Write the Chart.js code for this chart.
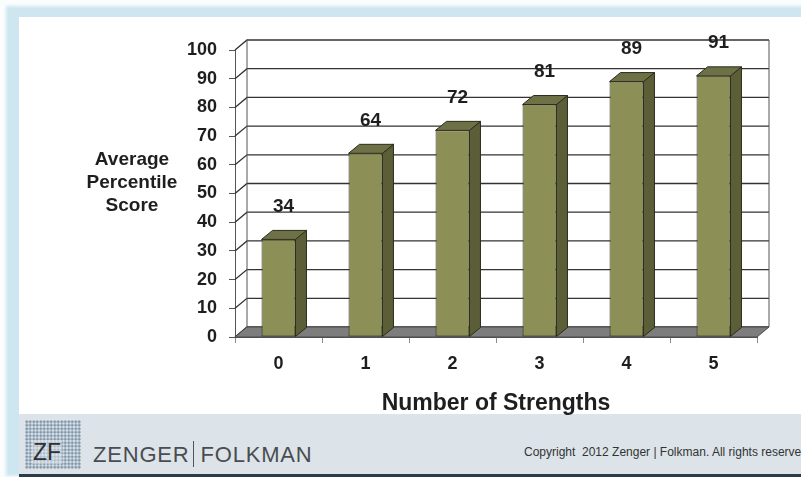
<!DOCTYPE html>
<html>
<head>
<meta charset="utf-8">
<script src="https://cdn.jsdelivr.net/npm/chart.js@4.4.1/dist/chart.umd.min.js"></script>
<style>
  html, body { margin: 0; padding: 0; }
  body { width: 801px; height: 477px; position: relative; overflow: hidden; background: #fafcfd; font-family: "Liberation Sans", Arial, sans-serif; }
  .frame { position: absolute; left: 6px; top: 6px; width: 820px; height: 470px; background: #cde6ef; filter: blur(1.5px); }
  .sheet { position: absolute; left: 19px; top: 17px; width: 800px; height: 397px; background: #fff; }
  .footer { position: absolute; left: 19px; top: 414px; width: 800px; height: 60px; background: #dce4e9; }
  .footer-line { position: absolute; left: 19px; top: 474px; width: 800px; height: 3px; background: #2c3b45; }
  .logo { position: absolute; left: 25px; top: 420px; width: 56px; height: 49px;
          background-image: radial-gradient(circle, #8196aa 1.2px, transparent 1.6px);
          background-size: 3.5px 3.5px; }
  .logo span { position: absolute; left: 7px; top: 20px; font-size: 23px; color: #2f3033; background: rgba(220,228,233,0.5); line-height: 24px; padding: 0 1px; }
  .brand { position: absolute; left: 93px; top: 441px; font-size: 22px; color: #4a4c50; letter-spacing: 0.8px; white-space: nowrap; }
  .brand i { display: inline-block; width: 1px; height: 26px; background: #555; vertical-align: -5px; margin: 0 6px 0 4px; }
  .copy { position: absolute; left: 524px; top: 445px; font-size: 12px; color: #333; white-space: nowrap; }
  #wrap { position: absolute; left: 0; top: 0; width: 801px; height: 477px; }
</style>
</head>
<body>
<div class="frame"></div>
<div class="sheet"></div>
<div class="footer"></div>
<div class="footer-line"></div>
<div class="logo"><span>ZF</span></div>
<div class="brand">ZENGER<i></i>FOLKMAN</div>
<div class="copy">Copyright&nbsp; 2012 Zenger | Folkman. All rights reserved</div>
<div id="wrap"><canvas id="chart"></canvas></div>
<script>
const strengths = ['0', '1', '2', '3', '4', '5'];
const percentileScores = [34, 64, 72, 81, 89, 91];
const yTitleLines = ['Average', 'Percentile', 'Score'];
const xTitle = 'Number of Strengths';

const FONT = '"Liberation Sans", Arial, sans-serif';
const WALL = { dx: 12, dy: -10 };
const BAR = { dx: 11, dy: -9 };

// back wall, left wall and floor, then bar sides/tops and value labels
const depth3d = {
  id: 'depth3d',
  beforeDatasetsDraw(chart) {
    const { ctx, chartArea: a, scales: { y } } = chart;
    ctx.save();
    ctx.strokeStyle = '#333';
    ctx.lineWidth = 1.3;
    y.ticks.forEach(t => {
      const py = y.getPixelForValue(t.value);
      ctx.beginPath();
      ctx.moveTo(a.left, py);
      ctx.lineTo(a.left + WALL.dx, py + WALL.dy);
      ctx.lineTo(a.right + WALL.dx, py + WALL.dy);
      ctx.stroke();
    });
    ctx.strokeStyle = '#555';
    ctx.lineWidth = 1;
    ctx.beginPath();
    ctx.moveTo(a.left + WALL.dx, a.top + WALL.dy);
    ctx.lineTo(a.left + WALL.dx, a.bottom + WALL.dy);
    ctx.moveTo(a.right + WALL.dx, a.top + WALL.dy);
    ctx.lineTo(a.right + WALL.dx, a.bottom + WALL.dy);
    ctx.stroke();
    // floor
    ctx.beginPath();
    ctx.moveTo(a.left, a.bottom);
    ctx.lineTo(a.right, a.bottom);
    ctx.lineTo(a.right + WALL.dx, a.bottom + WALL.dy);
    ctx.lineTo(a.left + WALL.dx, a.bottom + WALL.dy);
    ctx.closePath();
    ctx.fillStyle = '#7d7d7d';
    ctx.fill();
    ctx.strokeStyle = '#4a4a4a';
    ctx.stroke();
    ctx.restore();
  },
  afterDatasetsDraw(chart) {
    const { ctx } = chart;
    const meta = chart.getDatasetMeta(0);
    ctx.save();
    ctx.lineWidth = 1;
    ctx.strokeStyle = '#2b2d1c';
    ctx.lineJoin = 'round';
    meta.data.forEach((bar, i) => {
      const l = bar.x - bar.width / 2, r = bar.x + bar.width / 2;
      const top = bar.y, base = bar.base;
      // side face
      ctx.beginPath();
      ctx.moveTo(r, top);
      ctx.lineTo(r + BAR.dx, top + BAR.dy);
      ctx.lineTo(r + BAR.dx, base + BAR.dy);
      ctx.lineTo(r, base);
      ctx.closePath();
      ctx.fillStyle = '#5b5e37';
      ctx.fill();
      ctx.stroke();
      // top face
      ctx.beginPath();
      ctx.moveTo(l, top);
      ctx.lineTo(l + BAR.dx, top + BAR.dy);
      ctx.lineTo(r + BAR.dx, top + BAR.dy);
      ctx.lineTo(r, top);
      ctx.closePath();
      ctx.fillStyle = '#6e7146';
      ctx.fill();
      ctx.stroke();
      // value label
      const ly = chart.scales.y.getPixelForValue(percentileScores[i] + 11.5);
      ctx.fillStyle = '#1e1e1e';
      ctx.font = 'bold 19px ' + FONT;
      ctx.textAlign = 'center';
      ctx.textBaseline = 'middle';
      ctx.fillText(String(percentileScores[i]), bar.x + 5, ly);
    });
    ctx.restore();
  },
  afterDraw(chart) {
    const { ctx } = chart;
    ctx.save();
    ctx.fillStyle = '#1e1e1e';
    ctx.font = 'bold 19px ' + FONT;
    ctx.textAlign = 'center';
    ctx.textBaseline = 'middle';
    yTitleLines.forEach((line, i) => ctx.fillText(line, 132, 160 + i * 23));
    ctx.restore();
  }
};

new Chart(document.getElementById('chart'), {
  type: 'bar',
  data: {
    labels: strengths,
    datasets: [{
      data: percentileScores,
      backgroundColor: '#8c8f56',
      borderColor: '#2b2d1c',
      borderWidth: 1,
      borderSkipped: false,
      categoryPercentage: 1,
      barPercentage: 0.39
    }]
  },
  options: {
    responsive: true,
    maintainAspectRatio: false,
    animation: false,
    layout: { padding: { left: 20, right: 44, top: 50, bottom: 60 } },
    plugins: {
      legend: { display: false },
      tooltip: { enabled: false }
    },
    scales: {
      x: {
        afterFit: scale => { scale.height = 80; },
        grid: { drawOnChartArea: false, drawTicks: true, tickLength: 6, color: '#8a8a8a', offset: true },
        border: { display: true, color: '#555' },
        ticks: { color: '#1e1e1e', padding: 10, font: { family: FONT, size: 18, weight: 'bold' } },
        title: {
          display: true,
          text: xTitle,
          color: '#1e1e1e',
          padding: { top: 0, bottom: 0 },
          font: { family: FONT, size: 23, weight: 'bold' }
        }
      },
      y: {
        min: 0,
        max: 100,
        afterFit: scale => { scale.width = 215; },
        grid: { drawOnChartArea: false, drawTicks: true, tickLength: 6, color: '#555' },
        border: { display: true, color: '#555' },
        ticks: { stepSize: 10, color: '#1e1e1e', padding: 12, font: { family: FONT, size: 18, weight: 'bold' } }
      }
    }
  },
  plugins: [depth3d]
});
</script>
</body>
</html>
